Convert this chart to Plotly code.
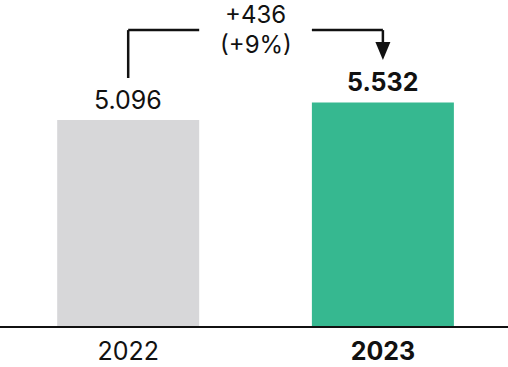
import plotly.graph_objects as go

# Data
years = ["2022", "2023"]
values = [5.096, 5.532]
value_labels = ["5.096", "5.532"]

# Styling
FONT = "Inter, Roboto, sans-serif"
INK = "#111111"
BAR_COLORS = ["#d7d7d9", "#36b890"]
BAR_WIDTH = 0.5575
Y_MAX = 8.065
PLOT_H_PX = 326
BRACKET_Y = 7.32          # bracket level in data units
LABEL_GAP_PX = 42         # gap between 2022 bar top and bracket riser
ARROW_TIP = 6.58          # arrow tip level in data units
ARROW_LEN_PX = 18
FS = 25

xs = list(range(len(years)))
px_per_unit = PLOT_H_PX / Y_MAX

diff = round((values[1] - values[0]) * 1000)
pct = round((values[1] - values[0]) / values[0] * 100)
delta_lines = [f"+{diff}", f"(+{pct}%)"]

fig = go.Figure()
fig.add_trace(go.Bar(
    x=xs, y=values, width=BAR_WIDTH,
    marker=dict(color=BAR_COLORS, line=dict(width=0)),
    hoverinfo="skip",
))

# Value labels above bars
for i, (v, lab) in enumerate(zip(values, value_labels)):
    txt = f"<b>{lab}</b>" if i == len(values) - 1 else lab
    fig.add_annotation(
        x=xs[i], y=v, text=txt, showarrow=False,
        xanchor="center", yanchor="bottom", yshift=3,
        font=dict(family=FONT, size=FS, color=INK),
    )

line_style = dict(color=INK, width=2.5)

# Left riser from above the 2022 label up to the bracket level
riser_bottom = values[0] + LABEL_GAP_PX / px_per_unit
fig.add_shape(type="line", xref="x", yref="y",
              x0=xs[0], x1=xs[0], y0=riser_bottom, y1=BRACKET_Y,
              line=line_style)
# Horizontal segments, from bar centre to the inner bar edges
fig.add_shape(type="line", xref="x", yref="y",
              x0=xs[0], x1=xs[0] + BAR_WIDTH / 2, y0=BRACKET_Y, y1=BRACKET_Y,
              line=line_style)
fig.add_shape(type="line", xref="x", yref="y",
              x0=xs[1] - BAR_WIDTH / 2, x1=xs[1], y0=BRACKET_Y, y1=BRACKET_Y,
              line=line_style)
# Right drop with arrowhead
fig.add_shape(type="line", xref="x", yref="y",
              x0=xs[1], x1=xs[1], y0=BRACKET_Y, y1=ARROW_TIP + 5 / px_per_unit,
              line=line_style)
fig.add_shape(type="path", xref="x", yref="y",
              xsizemode="pixel", ysizemode="pixel",
              xanchor=xs[1], yanchor=ARROW_TIP,
              path=f"M -7.5 {ARROW_LEN_PX} L 7.5 {ARROW_LEN_PX} L 0 0 Z",
              fillcolor=INK, line=dict(width=0))

# Change label in the gap of the bracket (two lines)
for line_txt, shift in zip(delta_lines, [16, -14]):
    fig.add_annotation(
        x=(xs[0] + xs[1]) / 2, y=BRACKET_Y, text=line_txt, showarrow=False,
        xanchor="center", yanchor="middle", yshift=shift,
        font=dict(family=FONT, size=24, color=INK),
    )

fig.update_layout(
    width=508, height=367,
    margin=dict(l=0, r=0, t=0, b=367 - PLOT_H_PX),
    paper_bgcolor="white", plot_bgcolor="white",
    showlegend=False,
    xaxis=dict(
        range=[-0.5033, 1.4912],
        tickvals=xs,
        ticktext=[years[0], f"<b>{years[1]}</b>"],
        tickfont=dict(family=FONT, size=FS, color=INK),
        ticks="", showgrid=False, zeroline=False,
        showline=True, linecolor=INK, linewidth=2,
        ticklabelstandoff=2,
    ),
    yaxis=dict(range=[0, Y_MAX], visible=False, fixedrange=True),
)

fig.write_html("out.html")
